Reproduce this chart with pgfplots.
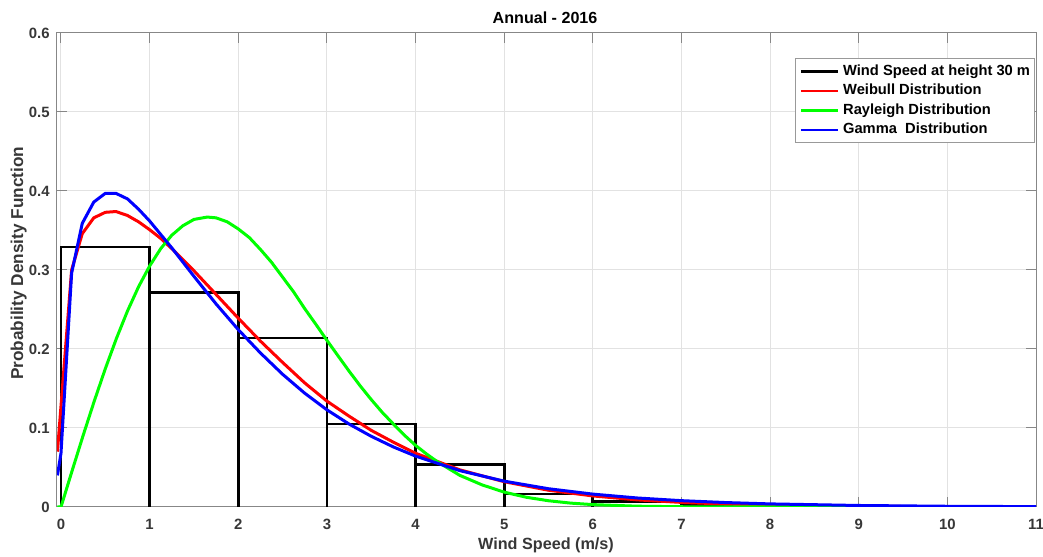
\documentclass[border=0pt]{standalone}
\usepackage{fontspec}
\setmainfont{Liberation Sans}
\usepackage{pgfplots}
\pgfplotsset{compat=1.18}
\definecolor{axgray}{RGB}{135,135,135}
\definecolor{txtgray}{RGB}{55,55,55}
\definecolor{gridgray}{RGB}{226,226,226}
\definecolor{mred}{RGB}{255,0,0}
\definecolor{mgreen}{RGB}{0,255,0}
\definecolor{mblue}{RGB}{0,0,255}
\begin{document}
\begin{tikzpicture}
\begin{axis}[
  name=ax,
  scale only axis, width=489.5pt, height=237pt,
  xmin=-0.045, xmax=11, ymin=0, ymax=0.6,
  xtick={0,1,2,3,4,5,6,7,8,9,10,11},
  xticklabels={0,1,2,3,4,5,6,7,8,9,10,11},
  ytick={0,0.1,0.2,0.3,0.4,0.5,0.6},
  yticklabels={0,0.1,0.2,0.3,0.4,0.5,0.6},
  tick align=inside, major tick length=4.9pt,
  axis line style={axgray, line width=0.5pt},
  every tick/.style={axgray, line width=0.5pt},
  grid=major, major grid style={gridgray, line width=0.5pt},
  ticklabel style={font=\fontsize{7.45}{9}\selectfont\bfseries, text=txtgray},
  xticklabel style={inner sep=0pt, yshift=-6pt},
  yticklabel style={inner sep=0pt, xshift=-3.5pt},
  xlabel={Wind Speed (m/s)},
  xlabel style={at={(axis description cs:0.4995,-0.0907)}, anchor=base, font=\fontsize{8.1}{10}\selectfont\bfseries, text=txtgray},
  ylabel={Probability Density Function},
  ylabel style={at={(axis description cs:-0.0345,0.514)}, anchor=base, font=\fontsize{8.6}{10}\selectfont\bfseries, text=txtgray},
  legend style={at={(0.9985,0.947)}, anchor=north east, draw=black!40, line width=0.5pt, fill=white,
    inner xsep=2pt, inner ysep=3pt, font=\fontsize{7.35}{9}\selectfont\bfseries,
    nodes={inner sep=0pt, text height=5.4pt, text depth=1.5pt}, row sep=2.85pt,
    /tikz/every odd column/.append style={column sep=2pt}},
  legend cell align=left,
  legend image code/.code={\draw[#1, line width=1.2pt] (0pt,0pt) -- (18.5pt,0pt);},
]
% histogram (outline)
\addplot[black, line width=1.4pt, line join=miter, mark=none] coordinates {
(0,0)(0,0.329)(1,0.329)(1,0)(1,0.272)(2,0.272)(2,0)(2,0.214)(3,0.214)(3,0)
(3,0.105)(4,0.105)(4,0)(4,0.054)(5,0.054)(5,0)(5,0.0165)(6,0.0165)(6,0)
(6,0.0065)(7,0.0065)(7,0)(7,0.003)(8,0.003)(8,0)(8,0.0015)(9,0.0015)(9,0)
};
\addlegendentry{Wind Speed at height 30 m}
% Weibull
\addplot[mred, line width=1.5pt, mark=none] coordinates {
(-0.04,0.070)(0.12,0.300)(0.24,0.346)(0.37,0.366)(0.5,0.373)(0.62,0.374)(0.75,0.369)
(0.875,0.361)(1.0,0.351)(1.125,0.340)(1.25,0.327)(1.375,0.313)(1.5,0.299)(1.75,0.269)(2.0,0.239)(2.25,0.210)
(2.5,0.183)(2.75,0.157)(3.0,0.134)(3.25,0.115)(3.5,0.097)(3.75,0.082)(4.0,0.068)
(4.5,0.047)(5.0,0.032)(5.5,0.0212)(6.0,0.0140)(6.5,0.0090)(7.0,0.0058)(7.5,0.0037)
(8.0,0.0023)(9.0,0.0009)(10,0.0003)(11,0.0001)
};
\addlegendentry{Weibull Distribution}
% Rayleigh
\addplot[mgreen, line width=1.5pt, mark=none] coordinates {
(-0.04,0)(0,0)(0.125,0.0457)(0.25,0.0906)(0.375,0.1339)(0.5,0.175)(0.625,0.2132)(0.75,0.248)
(0.875,0.2787)(1.0,0.305)(1.125,0.327)(1.25,0.344)
(1.375,0.356)(1.5,0.364)(1.65,0.367)(1.75,0.366)(1.875,0.361)(2.0,0.352)(2.125,0.341)
(2.25,0.326)(2.375,0.3098)(2.5,0.291)(2.625,0.2722)(2.75,0.251)(2.875,0.2313)(3.0,0.211)
(3.125,0.1914)(3.25,0.172)(3.375,0.1534)(3.5,0.136)(3.625,0.1197)(3.75,0.105)(3.875,0.0908)
(4.0,0.078)(4.125,0.0670)(4.25,0.057)(4.5,0.040)(4.75,0.028)(5.0,0.0188)(5.25,0.0123)(5.5,0.0079)
(5.75,0.0049)(6.0,0.0030)(6.5,0.0010)(7.0,0.0003)(8,0.00002)(9,0)(10,0)(11,0)
};
\addlegendentry{Rayleigh Distribution}
% Gamma
\addplot[mblue, line width=1.5pt, mark=none] coordinates {
(-0.04,0.040)(0.0,0.068)(0.12,0.296)(0.24,0.359)(0.37,0.386)(0.5,0.397)(0.62,0.397)
(0.75,0.390)(0.875,0.377)(1.0,0.362)(1.125,0.345)(1.25,0.328)(1.375,0.310)(1.5,0.292)(1.75,0.257)(2.0,0.2245)
(2.25,0.195)(2.5,0.168)(2.75,0.144)(3.0,0.123)(3.25,0.105)(3.5,0.0895)(3.75,0.076)
(4.0,0.0644)(4.5,0.046)(5.0,0.0327)(5.5,0.0231)(6.0,0.0163)(6.5,0.0114)(7.0,0.0080)
(7.5,0.0056)(8.0,0.0039)(9,0.0019)(10,0.0009)(11,0.00044)
};
\addlegendentry{Gamma\ \ Distribution}
\coordinate (bl) at (rel axis cs:0,0);
\coordinate (tr) at (rel axis cs:1,1);
\coordinate (tt) at (rel axis cs:0.4985,1.019);
\end{axis}
\node[anchor=base, inner sep=0pt, font=\fontsize{8.05}{10}\selectfont\bfseries, text=black] at (tt) {Annual - 2016};
\pgfresetboundingbox
\path ([shift={(-28.5pt,-25pt)}]bl) rectangle ([shift={(3.5pt,16.5pt)}]tr);
\end{tikzpicture}
\end{document}
